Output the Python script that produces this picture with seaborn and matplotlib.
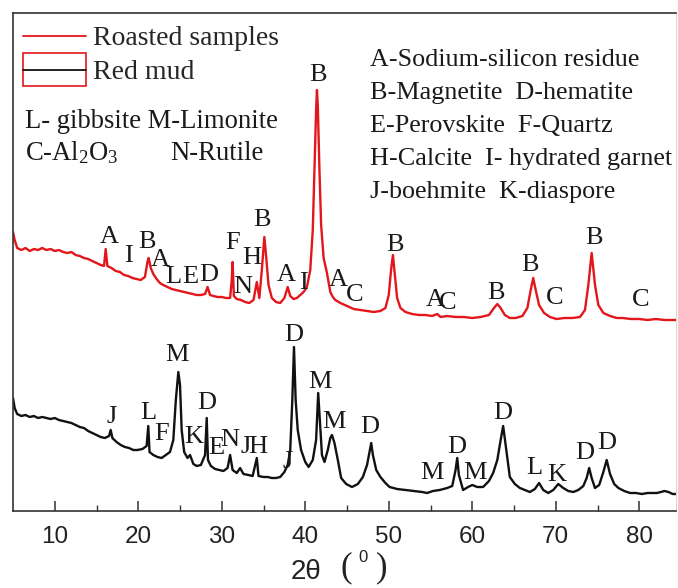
import matplotlib
matplotlib.use("Agg")
import matplotlib.pyplot as plt
from matplotlib.lines import Line2D
from matplotlib.patches import Rectangle
from matplotlib.legend_handler import HandlerBase
import seaborn as sns
import pandas as pd

# ---------------- data ----------------
# XRD scans: 2-theta (deg) and intensity (a.u.)
roasted_2theta = [
    5.0, 5.2, 5.5, 6.0, 6.5, 7.0, 7.5, 8.0, 8.5, 9.0, 9.5, 10.0, 10.5, 11.0, 11.5, 12.0,
    12.5, 13.0, 13.5, 14.0, 14.5, 15.0, 15.5, 15.9, 16.1, 16.3, 16.8, 17.3, 17.8, 18.3,
    18.8, 19.3, 19.8, 20.3, 20.8, 21.1, 21.25, 21.5, 21.8, 22.2, 22.6, 23.0, 23.5, 24.0,
    24.5, 25.0, 25.5, 26.0, 26.5, 27.0, 27.5, 28.0, 28.3, 28.6, 29.0, 29.5, 30.0, 30.5,
    31.0, 31.2, 31.3, 31.45, 31.8, 32.3, 32.8, 33.3, 33.8, 34.2, 34.5, 34.8, 35.1, 35.3,
    35.6, 36.0, 36.5, 37.0, 37.5, 37.9, 38.2, 38.6, 39.0, 39.4, 39.8, 40.2, 40.6, 40.9,
    41.1, 41.3, 41.4, 41.5, 41.7, 41.9, 42.2, 42.6, 43.0, 43.3, 43.6, 44.2, 45.0, 45.8,
    46.6, 47.4, 48.2, 49.0, 49.6, 50.0, 50.3, 50.5, 50.7, 51.0, 51.4, 52.0, 52.8, 53.6,
    54.4, 55.2, 55.8, 56.2, 57.0, 58.0, 59.0, 60.0, 61.0, 62.0, 62.6, 63.0, 63.4, 63.9,
    64.5, 65.2, 66.0, 66.6, 67.0, 67.3, 67.6, 68.0, 68.6, 69.3, 70.1, 71.0, 72.0, 72.9,
    73.5, 73.9, 74.3, 74.7, 75.1, 75.7, 76.5, 77.3, 78.0, 79.0, 80.0, 81.0, 82.0, 83.0,
    84.0, 84.5,
]
roasted_intensity = [
    99, 91, 83, 81, 83, 80, 82, 81, 83, 81, 82, 80, 81, 79, 78, 79,
    76, 75, 73, 72, 70, 68, 66, 65, 82, 65, 63, 60, 59, 56,
    55, 53, 52, 51, 54, 69, 73, 63, 57, 52, 48, 46, 44, 42,
    41, 40, 39, 38, 37, 36, 36, 37, 44, 36, 35, 34, 34, 33,
    33, 51, 69, 35, 32, 31, 29, 28, 31, 49, 33, 61, 94, 76,
    46, 33, 29, 28, 33, 44, 35, 32, 33, 36, 39, 44, 61, 101,
    161, 221, 241, 226, 161, 106, 73, 58, 39, 34, 31, 28, 25, 22,
    21, 20, 19, 20, 23, 36, 63, 76, 59, 33, 23, 19, 17, 16,
    16, 15, 17, 14, 15, 14, 14, 13, 14, 16, 23, 27, 23, 16,
    13, 13, 15, 23, 41, 53, 41, 26, 18, 14, 12, 13, 13, 14,
    21, 46, 78, 46, 26, 18, 15, 13, 13, 12, 12, 11, 12, 11,
    11, 11,
]

redmud_2theta = [
    5.0, 5.2, 5.5, 6.0, 6.5, 7.0, 7.5, 8.0, 8.5, 9.0, 9.5, 10.0, 10.5, 11.0, 11.5, 12.0,
    12.5, 13.0, 13.5, 14.0, 14.5, 15.0, 15.5, 16.0, 16.5, 16.7, 16.9, 17.4, 17.9, 18.4,
    18.9, 19.4, 19.9, 20.5, 21.0, 21.2, 21.35, 21.8, 22.3, 22.8, 23.3, 23.8, 24.2, 24.5,
    24.8, 25.0, 25.2, 25.5, 25.9, 26.2, 26.6, 27.0, 27.5, 28.0, 28.2, 28.35, 28.7, 29.2,
    29.7, 30.2, 30.7, 31.0, 31.3, 31.8, 32.2, 32.6, 33.2, 33.7, 34.2, 34.4, 35.0, 35.5,
    36.0, 36.5, 37.0, 37.5, 37.9, 38.2, 38.45, 38.65, 38.85, 39.1, 39.5, 40.0, 40.4, 40.9,
    41.3, 41.55, 41.75, 42.0, 42.3, 42.7, 43.0, 43.2, 43.5, 43.9, 44.3, 44.9, 45.6, 46.3,
    46.9, 47.4, 47.7, 47.9, 48.1, 48.5, 49.0, 49.6, 50.1, 51.0, 52.0, 53.0, 54.0, 54.6,
    55.3, 56.1, 57.0, 57.6, 58.0, 58.2, 58.4, 58.9, 59.5, 60.0, 60.6, 61.3, 62.0, 62.5,
    63.0, 63.4, 63.7, 64.0, 64.5, 65.1, 65.7, 66.3, 66.9, 67.5, 68.0, 68.5, 69.1, 69.7,
    70.3, 70.9, 71.5, 72.1, 72.7, 73.3, 73.7, 74.0, 74.3, 74.7, 75.2, 75.7, 76.1, 76.5,
    77.0, 77.5, 78.2, 78.9, 79.6, 80.3, 81.0, 81.6, 82.1, 82.6, 83.0, 83.5, 84.0, 84.5,
]
redmud_intensity = [
    113, 103, 97, 95, 96, 94, 95, 93, 94, 93, 92, 93, 91, 90, 89, 88,
    86, 84, 83, 80, 78, 76, 74, 73, 75, 81, 73, 69, 66, 64,
    63, 61, 61, 62, 65, 85, 59, 56, 54, 53, 56, 59, 71, 111,
    139, 126, 81, 59, 53, 56, 47, 45, 46, 56, 93, 51, 45, 42,
    41, 40, 43, 56, 41, 38, 43, 37, 36, 35, 53, 35, 34, 34,
    33, 33, 34, 39, 46, 61, 111, 164, 111, 81, 61, 49, 44, 51,
    71, 118, 91, 56, 49, 61, 73, 76, 68, 51, 33, 27, 24, 27,
    34, 46, 59, 68, 56, 41, 34, 28, 24, 22, 21, 20, 19, 18,
    20, 21, 23, 25, 41, 53, 36, 21, 24, 26, 24, 24, 30, 38,
    51, 71, 85, 66, 34, 27, 23, 21, 19, 22, 28, 21, 18, 21,
    27, 23, 20, 19, 21, 25, 33, 43, 33, 23, 26, 39, 51, 37,
    27, 23, 20, 18, 18, 17, 18, 18, 18, 19, 20, 19, 17, 17,
]

# vertical shift used to stack the roasted scan above the red mud scan
roasted_offset = 180

# phase marks: letter, 2-theta, height on the plot
roasted_marks = ["A", "I", "B", "A", "L", "E", "D", "F", "H", "N", "B", "A", "I",
                 "B", "A", "C", "B", "A", "C", "B", "B", "C", "B", "C"]
roasted_mark_x = [16.5, 18.77, 21.05, 22.6, 24.16, 26.2, 28.47, 31.35, 33.62, 32.54,
                  34.82, 37.69, 39.73, 41.53, 43.92, 45.96, 50.75, 55.54, 57.1,
                  62.84, 66.92, 69.91, 74.58, 80.21]
roasted_mark_y = [274, 255, 269, 251, 234, 234, 236, 268, 253, 224, 291, 236, 228,
                  436, 231, 216, 266, 211, 208, 218, 246, 213, 273, 211]

redmud_marks = ["J", "L", "F", "M", "K", "D", "E", "N", "J", "H", "J", "D", "M",
                "M", "D", "M", "D", "M", "D", "L", "K", "D", "D"]
redmud_mark_x = [16.86, 21.17, 22.84, 24.64, 26.68, 28.23, 29.31, 30.99, 32.9, 34.34,
                 37.93, 38.65, 41.77, 43.44, 47.75, 55.18, 58.17, 60.33, 63.68, 67.4,
                 70.15, 73.5, 76.14]
redmud_mark_y = [94, 98, 77, 156, 74, 108, 63, 71, 64, 64, 49, 176, 129, 89, 84, 38,
                 64, 38, 98, 43, 36, 58, 68]

series_names = ["Roasted samples", "Red mud"]

phase_key_left = [["L- gibbsite M-Limonite"],
                  ["C-Al$_2$O$_3$", "N-Rutile"]]
phase_key_right = ["A-Sodium-silicon residue",
                   "B-Magnetite  D-hematite",
                   "E-Perovskite  F-Quartz",
                   "H-Calcite  I- hydrated garnet",
                   "J-boehmite  K-diaspore"]

x_ticks = [10, 20, 30, 40, 50, 60, 70, 80]

# ---------------- style ----------------
sns.set_theme(style="ticks")
plt.rcParams["font.family"] = ["Liberation Serif", "DejaVu Serif"]
plt.rcParams["mathtext.fontset"] = "custom"
plt.rcParams["mathtext.rm"] = "Liberation Serif"
plt.rcParams["mathtext.it"] = "Liberation Serif:italic"

RED = "#e3161b"
BLACK = "#111111"
INK = "#1a1a1a"

fig = plt.figure(figsize=(6.78, 5.88), dpi=100)
ax = fig.add_axes([13 / 678, 1 - 511 / 588, 663 / 678, 498 / 588])

df_r = pd.DataFrame({"two_theta": roasted_2theta,
                     "intensity": [v + roasted_offset for v in roasted_intensity]})
df_m = pd.DataFrame({"two_theta": redmud_2theta, "intensity": redmud_intensity})

sns.lineplot(data=df_m, x="two_theta", y="intensity", ax=ax, color=BLACK,
             lw=1.7, sort=False, estimator=None)
sns.lineplot(data=df_r, x="two_theta", y="intensity", ax=ax, color=RED,
             lw=1.7, sort=False, estimator=None)

ax.set_xlim(5, 84.4)
ax.set_ylim(0, 498)
ax.set_yticks([])
ax.set_ylabel("")
ax.set_xticks(x_ticks)
ax.set_xticks([15, 25, 35, 45, 55, 65, 75], minor=True)
ax.tick_params(axis="x", which="major", direction="in", length=7, width=1.1,
               color="#333333", pad=11, labelsize=17.5)
ax.tick_params(axis="x", which="minor", direction="in", length=4, width=1.0,
               color="#333333")
for lab in ax.get_xticklabels():
    lab.set_fontfamily(["Liberation Sans", "DejaVu Sans"])
    lab.set_color("#222222")

for side in ["left", "bottom", "top"]:
    ax.spines[side].set_color("#333333")
    ax.spines[side].set_linewidth(1.2)
ax.spines["right"].set_color("#d8d8d8")
ax.spines["right"].set_linewidth(0.8)


def frac(px, py):
    return (px - 13) / 663, (511 - py) / 498


# axis title: 2θ followed by a bracketed degree mark
ax.set_xlabel("2θ", fontsize=20, color="#222222",
              family=["Liberation Sans", "DejaVu Sans"])
ax.xaxis.set_label_coords(*frac(306, 572))
ax.xaxis.label.set_va("center")
ax.text(*frac(346, 568), "(", transform=ax.transAxes, fontsize=25,
        ha="center", va="center", color="#222222")
ax.text(*frac(363, 557), "0", transform=ax.transAxes, fontsize=12,
        ha="center", va="center", color="#222222",
        family=["Liberation Sans", "DejaVu Sans"])
ax.text(*frac(382, 568), ")", transform=ax.transAxes, fontsize=25,
        ha="center", va="center", color="#222222")

# phase letters
for s, x, y in zip(roasted_marks, roasted_mark_x, roasted_mark_y):
    ax.text(x, y, s, ha="center", va="center", fontsize=19, color=INK)
for s, x, y in zip(redmud_marks, redmud_mark_x, redmud_mark_y):
    ax.text(x, y, s, ha="center", va="center", fontsize=19, color=INK)

# phase key
ax.text(*frac(25, 128), phase_key_left[0][0], transform=ax.transAxes,
        fontsize=19.2, va="baseline", ha="left", color=INK)
ax.text(*frac(25, 160), phase_key_left[1][0], transform=ax.transAxes,
        fontsize=19.2, va="baseline", ha="left", color=INK)
ax.text(*frac(170, 160), phase_key_left[1][1], transform=ax.transAxes,
        fontsize=19.2, va="baseline", ha="left", color=INK)
for i, line in enumerate(phase_key_right):
    ax.text(*frac(370, 66 + 33 * i), line, transform=ax.transAxes,
            fontsize=18.8, va="baseline", ha="left", color=INK)


# legend: second entry drawn as a framed line
class FramedLineHandler(HandlerBase):
    def create_artists(self, legend, orig_handle, xdescent, ydescent, width,
                       height, fontsize, trans):
        cy = height / 2 - ydescent
        h = 1.2 * fontsize
        rect = Rectangle((-xdescent, cy - h / 2), width, h, facecolor="none",
                         edgecolor=RED, lw=1.2, transform=trans)
        line = Line2D([-xdescent, -xdescent + width], [cy, cy], color=BLACK,
                      lw=1.3, transform=trans)
        return [rect, line]


h_roasted = Line2D([], [], color=RED, lw=1.3)
h_mud = Line2D([], [], color=BLACK, lw=1.3)
ax.legend([h_roasted, h_mud], series_names, loc="upper left",
          bbox_to_anchor=frac(23, 26), frameon=False, fontsize=20,
          handlelength=2.25, handletextpad=0.28, borderpad=0, borderaxespad=0,
          labelspacing=0.3, handler_map={h_mud: FramedLineHandler()})

fig.savefig("out.png", dpi=100)
